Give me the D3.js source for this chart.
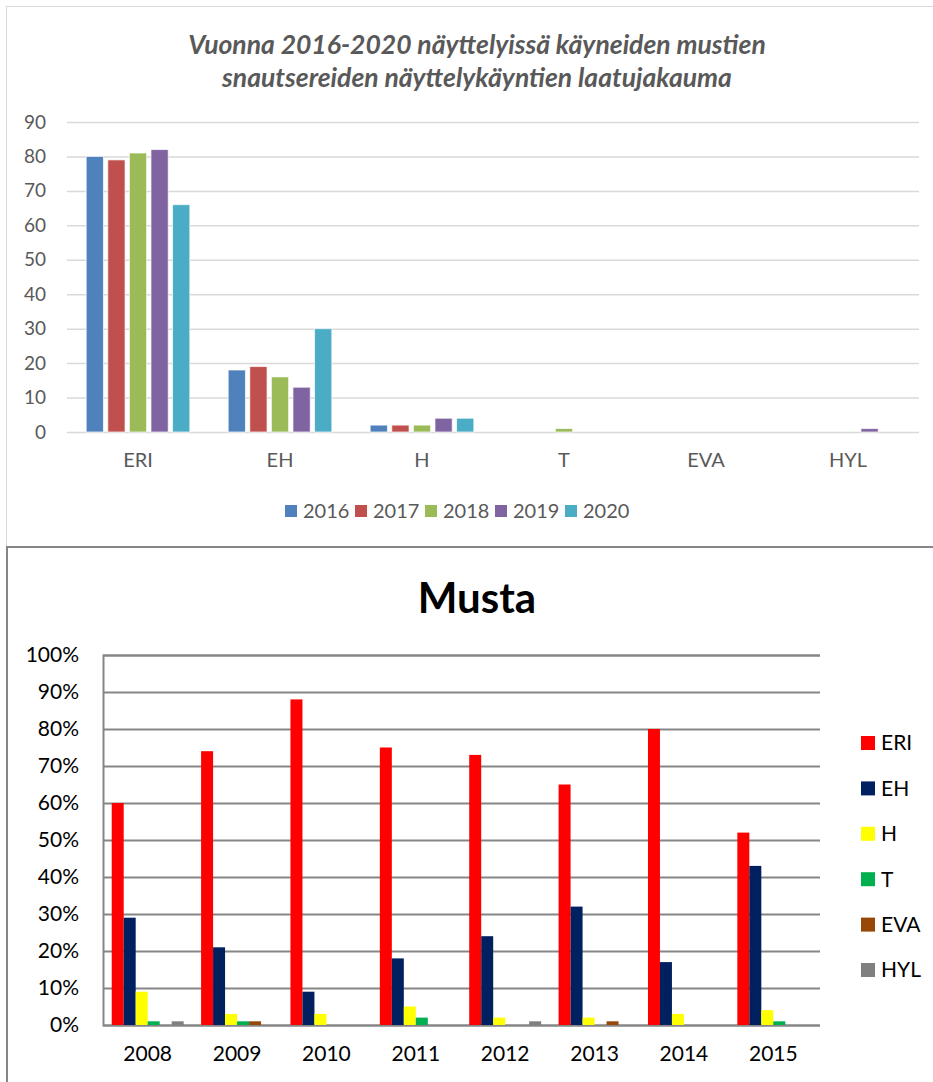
<!DOCTYPE html>
<html>
<head>
<meta charset="utf-8">
<script src="https://cdn.jsdelivr.net/npm/d3@7"></script>
<style>
  body { margin: 0; background: #fff; }
  svg { display: block; font-family: Lato, 'Open Sans', sans-serif; }
</style>
</head>
<body>
<div id="chart"></div>
<script>
// top chart: quality grades 2016-2020
const gradeCats = ['ERI', 'EH', 'H', 'T', 'EVA', 'HYL'];
const yearKeys = ['2016', '2017', '2018', '2019', '2020'];
const yearColors = ['#4F81BD', '#C0504D', '#9BBB59', '#8064A2', '#4BACC6'];
const v2016 = [80, 18, 2, 0, 0, 0];
const v2017 = [79, 19, 2, 0, 0, 0];
const v2018 = [81, 16, 2, 1, 0, 0];
const v2019 = [82, 13, 4, 0, 0, 1];
const v2020 = [66, 30, 4, 0, 0, 0];
const topTicks = [0, 10, 20, 30, 40, 50, 60, 70, 80, 90];

// bottom chart: Musta 2008-2015 (percent)
const years = ['2008', '2009', '2010', '2011', '2012', '2013', '2014', '2015'];
const gradeColors = ['#FF0000', '#002060', '#FFFF00', '#00B050', '#974807', '#808080'];
const pERI = [60, 74, 88, 75, 73, 65, 80, 52];
const pEH  = [29, 21, 9, 18, 24, 32, 17, 43];
const pH   = [9, 3, 3, 5, 2, 2, 3, 4];
const pT   = [1, 1, 0, 2, 0, 0, 0, 1];
const pEVA = [0, 1, 0, 0, 0, 1, 0, 0];
const pHYL = [1, 0, 0, 0, 1, 0, 0, 0];
const pctTicks = [0, 10, 20, 30, 40, 50, 60, 70, 80, 90, 100];

const W = 933, H = 1082;
const svg = d3.select('#chart').append('svg')
  .attr('width', W).attr('height', H);

// ---------- top chart ----------
const topSeries = [v2016, v2017, v2018, v2019, v2020];
const topG = svg.append('g');

topG.append('rect')
  .attr('x', 6.5).attr('y', 6.5)
  .attr('width', 960).attr('height', 540)
  .attr('fill', '#fff').attr('stroke', '#D9D9D9');

topG.append('text')
  .attr('x', 477).attr('text-anchor', 'middle')
  .attr('fill', '#595959')
  .style('font-size', '26.5px').style('font-weight', 'bold').style('font-style', 'italic')
  .selectAll('tspan')
  .data(['Vuonna 2016-2020 näyttelyissä käyneiden mustien', 'snautsereiden näyttelykäyntien laatujakauma'])
  .enter().append('tspan')
  .attr('x', 477)
  .attr('y', (d, i) => 54 + i * 33)
  .text((d) => d);

const tx0 = d3.scaleBand().domain(gradeCats).range([67, 919])
  .paddingInner(0.27).paddingOuter(0.135);
const tx1 = d3.scaleBand().domain(yearKeys).range([0, tx0.bandwidth()])
  .paddingInner(0.2);
const ty = d3.scaleLinear().domain([0, 90]).range([432, 122]);

const tAxis = topG.append('g')
  .attr('transform', 'translate(67,0)')
  .call(d3.axisLeft(ty).tickValues(topTicks).tickSize(-852).tickPadding(21));
tAxis.select('.domain').remove();
tAxis.selectAll('line').attr('stroke', '#D9D9D9').attr('stroke-width', 1.5);
tAxis.selectAll('text').attr('fill', '#595959')
  .style('font-size', '19px').style('font-family', 'Lato, sans-serif');

topG.selectAll('.grp')
  .data(gradeCats)
  .enter().append('g')
  .attr('transform', (d) => `translate(${tx0(d)},0)`)
  .selectAll('rect')
  .data((d, ci) => yearKeys.map((k, si) => ({ k, si, v: topSeries[si][ci] })))
  .enter().append('rect')
  .attr('x', (d) => tx1(d.k))
  .attr('width', tx1.bandwidth())
  .attr('y', (d) => ty(d.v))
  .attr('height', (d) => ty(0) - ty(d.v))
  .attr('fill', (d) => yearColors[d.si])
  .attr('stroke', (d) => d.v > 0 ? '#fff' : 'none')
  .attr('stroke-opacity', 0.7);

const txAxis = topG.append('g')
  .attr('transform', 'translate(0,432)')
  .call(d3.axisBottom(tx0).tickSize(0).tickPadding(21));
txAxis.select('.domain').remove();
txAxis.selectAll('text').attr('fill', '#595959')
  .style('font-size', '20px').style('font-family', 'Lato, sans-serif');

const tLeg = topG.append('g').attr('transform', 'translate(285,511)');
const tItems = tLeg.selectAll('g').data(yearKeys).enter().append('g')
  .attr('transform', (d, i) => `translate(${i * 70},0)`);
tItems.append('rect').attr('x', 0).attr('y', -6).attr('width', 12).attr('height', 12)
  .attr('fill', (d, i) => yearColors[i]);
tItems.append('text').attr('x', 18).attr('dy', '0.35em')
  .attr('fill', '#595959').style('font-size', '20px').text((d) => d);

// ---------- bottom chart ----------
const botSeries = [pERI, pEH, pH, pT, pEVA, pHYL];
const botG = svg.append('g');

botG.append('rect')
  .attr('x', 7).attr('y', 547)
  .attr('width', 960).attr('height', 560)
  .attr('fill', '#fff').attr('stroke', '#868686').attr('stroke-width', 2);

botG.append('text')
  .attr('x', 477).attr('y', 613).attr('text-anchor', 'middle')
  .attr('fill', '#000')
  .style('font-size', '42px').style('font-weight', 'bold')
  .text('Musta');

const bx0 = d3.scaleBand().domain(years).range([103, 818])
  .paddingInner(0.195).paddingOuter(0.0975);
const bx1 = d3.scaleBand().domain(gradeCats).range([0, bx0.bandwidth()]);
const by = d3.scaleLinear().domain([0, 100]).range([1025, 655]);

const bAxis = botG.append('g')
  .attr('transform', 'translate(103,0)')
  .call(d3.axisLeft(by).tickValues(pctTicks).tickSize(-717).tickPadding(24)
    .tickFormat((d) => d + '%'));
bAxis.select('.domain').attr('stroke', '#868686').attr('stroke-width', 2);
bAxis.selectAll('line').attr('stroke', '#868686').attr('stroke-width', 2);
bAxis.selectAll('text').attr('fill', '#000')
  .style('font-size', '21px').style('font-family', 'Lato, sans-serif');

botG.selectAll('.grp')
  .data(years)
  .enter().append('g')
  .attr('transform', (d) => `translate(${bx0(d)},0)`)
  .selectAll('rect')
  .data((d, yi) => gradeCats.map((g, si) => ({ g, si, v: botSeries[si][yi] })))
  .enter().append('rect')
  .attr('x', (d) => bx1(d.g))
  .attr('width', bx1.bandwidth())
  .attr('y', (d) => by(d.v))
  .attr('height', (d) => by(0) - by(d.v))
  .attr('fill', (d) => gradeColors[d.si]);

const bxAxis = botG.append('g')
  .attr('transform', 'translate(0,1025)')
  .call(d3.axisBottom(bx0).tickSize(0).tickPadding(21));
bxAxis.select('.domain').remove();
bxAxis.selectAll('text').attr('fill', '#000')
  .style('font-size', '21px').style('font-family', 'Lato, sans-serif');

const bLeg = botG.append('g').attr('transform', 'translate(861,743)');
const bItems = bLeg.selectAll('g').data(gradeCats).enter().append('g')
  .attr('transform', (d, i) => `translate(0,${i * 45.4})`);
bItems.append('rect').attr('x', 0).attr('y', -7).attr('width', 14).attr('height', 14)
  .attr('fill', (d, i) => gradeColors[i]);
bItems.append('text').attr('x', 20).attr('dy', '0.35em')
  .attr('fill', '#000').style('font-size', '21px').text((d) => d);
</script>
</body>
</html>
